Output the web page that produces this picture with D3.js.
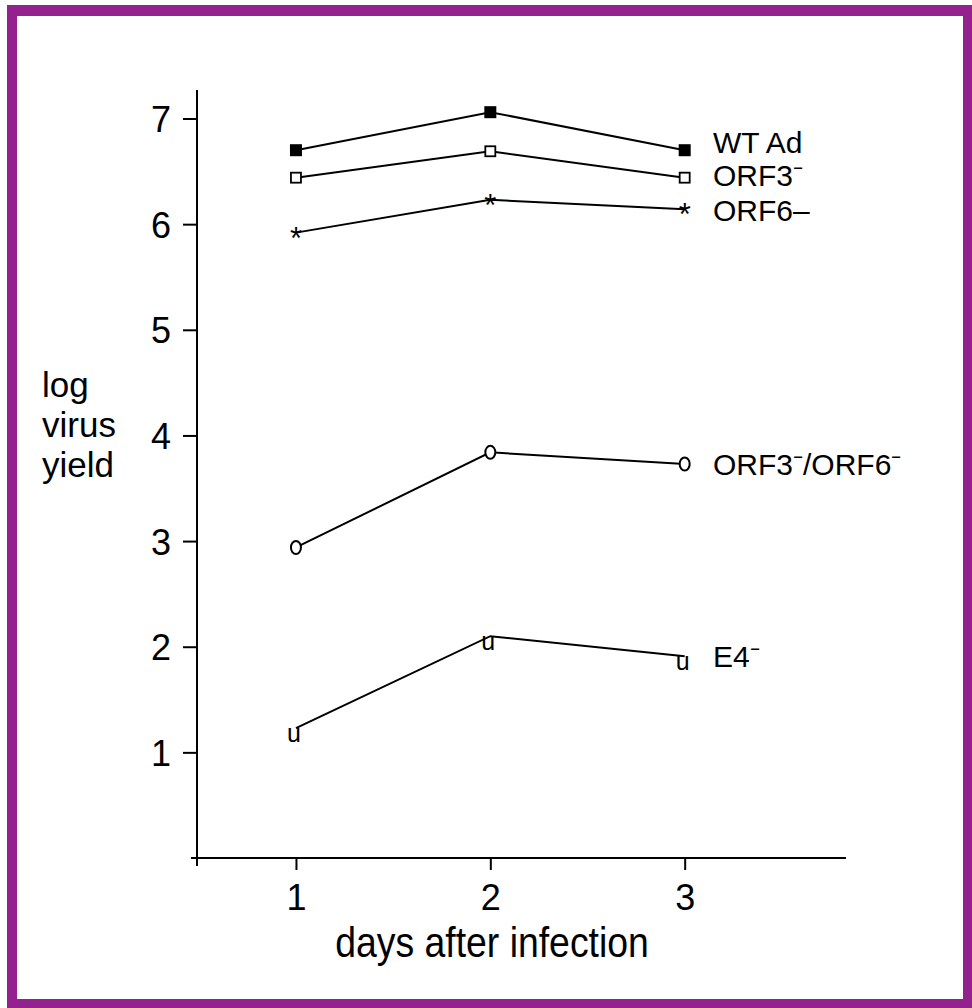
<!DOCTYPE html>
<html>
<head>
<meta charset="utf-8">
<script src="https://cdn.jsdelivr.net/npm/d3@7"></script>
<style>
  html, body { margin: 0; padding: 0; background: #fff; }
  svg text { font-family: "Liberation Sans", Arial, Helvetica, sans-serif; fill: #000; }
</style>
</head>
<body>
<svg id="chart" width="972" height="1008"></svg>
<script>
// Days after infection
const days = [1, 2, 3];

// log virus yield for each virus
const wtAd      = [6.70, 7.06, 6.70];
const orf3      = [6.44, 6.69, 6.44];
const orf6      = [5.92, 6.23, 6.14];
const orf3orf6  = [2.94, 3.84, 3.73];
const e4        = [1.23, 2.10, 1.91];

const yTicks = [1, 2, 3, 4, 5, 6, 7];
const xTicks = [1, 2, 3];

const series = [
  { name: "WT Ad",     values: wtAd,     marker: "filledSquare" },
  { name: "ORF3",      values: orf3,     marker: "openSquare" },
  { name: "ORF6",      values: orf6,     marker: "star" },
  { name: "ORF3/ORF6", values: orf3orf6, marker: "circle" },
  { name: "E4",        values: e4,       marker: "u" }
];

const svg = d3.select("#chart");

// purple frame
svg.append("rect").attr("x", 7).attr("y", 5).attr("width", 965).attr("height", 1003).attr("fill", "#93228f");
svg.append("rect").attr("x", 17).attr("y", 16).attr("width", 946).attr("height", 983).attr("fill", "#fff");

const x = d3.scaleLinear().domain([0.46, 3.83]).range([191, 846]);
const y = d3.scaleLinear().domain([0, 7.27]).range([858, 90]);
const axisX = 197; // position of the vertical axis

// y axis
const gy = svg.append("g").attr("transform", `translate(${axisX},0)`)
  .call(d3.axisLeft(y).tickValues(yTicks).tickSize(14).tickPadding(12).tickFormat(d3.format("d")));
gy.select(".domain").remove();
gy.selectAll(".tick line").attr("stroke", "#000").attr("stroke-width", 2);
gy.selectAll(".tick text").attr("font-size", 36).attr("dy", "0.36em")
  .style("font-family", '"Liberation Sans", Arial, sans-serif');
svg.append("line").attr("x1", axisX).attr("x2", axisX).attr("y1", 90).attr("y2", 866)
  .attr("stroke", "#000").attr("stroke-width", 2);

// x axis
const gx = svg.append("g").attr("transform", `translate(0,${y(0)})`)
  .call(d3.axisBottom(x).tickValues(xTicks).tickSize(12).tickFormat(d3.format("d")));
gx.select(".domain").remove();
gx.selectAll(".tick line").attr("stroke", "#000").attr("stroke-width", 2);
gx.selectAll(".tick text").attr("font-size", 36).attr("y", 52).attr("dy", 0)
  .style("font-family", '"Liberation Sans", Arial, sans-serif');
svg.append("line").attr("x1", x.range()[0]).attr("x2", x.range()[1]).attr("y1", y(0)).attr("y2", y(0))
  .attr("stroke", "#000").attr("stroke-width", 2);

// axis titles
svg.append("text").attr("x", 492).attr("y", 957).attr("text-anchor", "middle")
  .attr("font-size", 42).attr("transform", "translate(492,0) scale(0.89,1) translate(-492,0)")
  .text("days after infection");
const yTitle = svg.append("text").attr("font-size", 35);
["log", "virus", "yield"].forEach((t, i) => {
  yTitle.append("tspan").attr("x", 42).attr("y", 397 + i * 40).text(t);
});

// series lines
const line = d3.line().x((d, i) => x(days[i])).y(d => y(d));
series.forEach(s => {
  svg.append("path").datum(s.values).attr("d", line)
    .attr("fill", "none").attr("stroke", "#000").attr("stroke-width", 2);
});

// markers
series.forEach(s => {
  const g = svg.append("g");
  s.values.forEach((v, i) => {
    const cx = x(days[i]), cy = y(v);
    if (s.marker === "filledSquare") {
      g.append("rect").attr("x", cx - 6).attr("y", cy - 6).attr("width", 12).attr("height", 12).attr("fill", "#000");
    } else if (s.marker === "openSquare") {
      g.append("rect").attr("x", cx - 5).attr("y", cy - 5).attr("width", 10).attr("height", 10)
        .attr("fill", "#fff").attr("stroke", "#000").attr("stroke-width", 1.8);
    } else if (s.marker === "star") {
      g.append("text").attr("x", cx).attr("y", cy + 16).attr("text-anchor", "middle")
        .attr("font-size", 31).text("*");
    } else if (s.marker === "circle") {
      g.append("ellipse").attr("cx", cx).attr("cy", cy).attr("rx", 5).attr("ry", 6.5)
        .attr("fill", "#fff").attr("stroke", "#000").attr("stroke-width", 2);
    } else if (s.marker === "u") {
      g.append("text").attr("x", cx - 2).attr("y", cy + 14).attr("text-anchor", "middle")
        .attr("font-size", 25).text("u");
    }
  });
});

// series labels
const labelX = 713;
function label(yb, text) {
  svg.append("text").attr("x", labelX).attr("y", yb).attr("font-size", 30).text(text);
}
label(153, "WT Ad");
label(186, "ORF3⁻");
label(221, "ORF6–");
label(475, "ORF3⁻/ORF6⁻");
label(667, "E4⁻");
</script>
</body>
</html>
